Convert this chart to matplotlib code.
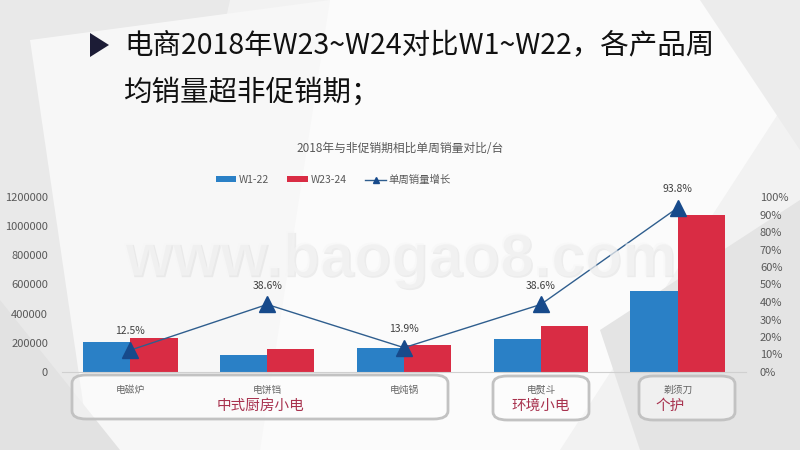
import matplotlib
matplotlib.use("Agg")
import matplotlib.pyplot as plt
from matplotlib.patches import FancyBboxPatch, Polygon
from matplotlib.lines import Line2D
from matplotlib.patches import Patch
import matplotlib.patheffects as pe
import numpy as np

plt.rcParams['font.family'] = ['Noto Sans CJK SC', 'DejaVu Sans']

categories = ['电磁炉', '电饼铛', '电炖锅', '电熨斗', '剃须刀']
w1_22 = [205000, 115000, 162000, 228000, 555000]
w23_24 = [231000, 160000, 185000, 316000, 1075000]
growth = [12.5, 38.6, 13.9, 38.6, 93.8]
growth_labels = ['12.5%', '38.6%', '13.9%', '38.6%', '93.8%']
left_ticks = [0, 200000, 400000, 600000, 800000, 1000000, 1200000]
right_ticks = [0, 10, 20, 30, 40, 50, 60, 70, 80, 90, 100]
groups = ['中式厨房小电', '环境小电', '个护']
series_names = ['W1-22', 'W23-24', '单周销量增长']
chart_title = '2018年与非促销期相比单周销量对比/台'
heading1 = '电商2018年W23~W24对比W1~W22，各产品周'
heading2 = '均销量超非促销期；'

W, H = 800, 450
fig = plt.figure(figsize=(8, 4.5), dpi=100)
fig.patch.set_facecolor('#f2f2f2')

def fx(x):
    return x / W

def fy(y):
    return 1 - y / H

# background geometry
bg = [
    ([(0, 0), (230, 0), (130, 450), (0, 450)], '#e9e9e9'),
    ([(30, 40), (330, 0), (480, 0), (260, 450), (90, 450)], '#f7f7f7'),
    ([(330, 0), (800, 0), (800, 80), (560, 450), (260, 450)], '#fbfbfb'),
    ([(600, 330), (800, 200), (800, 450), (640, 450)], '#e4e4e4'),
    ([(700, 0), (800, 0), (800, 150)], '#ececec'),
    ([(0, 300), (120, 450), (0, 450)], '#e2e2e2'),
]
for pts, c in bg:
    poly = Polygon([(fx(a), fy(b)) for a, b in pts], closed=True,
                   transform=fig.transFigure, facecolor=c, edgecolor='none', zorder=-10)
    fig.patches.append(poly)

# heading triangle
tri = Polygon([(fx(90), fy(33)), (fx(109), fy(45)), (fx(90), fy(57))], closed=True,
              transform=fig.transFigure, facecolor='#1c1c36', edgecolor='none', zorder=2)
fig.patches.append(tri)
fig.text(fx(124), fy(45), heading1, fontsize=20.5, color='#111111', va='center', ha='left',
         fontweight='medium')
fig.text(fx(124), fy(93), heading2, fontsize=20.5, color='#111111', va='center', ha='left',
         fontweight='medium')

# axes
ax = fig.add_axes([fx(62), fy(372), fx(746 - 62), (372 - 197) / H])
ax.set_facecolor('none')
ax.set_zorder(1)
x = np.arange(len(categories))
bw = 0.345
ax.bar(x - bw / 2, w1_22, bw, color='#2a80c6', zorder=2)
ax.bar(x + bw / 2, w23_24, bw, color='#d92c44', zorder=2)
ax.set_xlim(-0.5, len(categories) - 0.5)
ax.set_ylim(0, 1200000)
ax.set_yticks(left_ticks)
ax.set_yticklabels([str(v) for v in left_ticks])
ax.tick_params(axis='y', length=0, labelsize=8, labelcolor='#595959', pad=10)
ax.set_xticks([])
for s in ['top', 'right', 'left']:
    ax.spines[s].set_visible(False)
ax.spines['bottom'].set_color('#d0d0d0')
ax.spines['bottom'].set_linewidth(0.8)

ax2 = ax.twinx()
ax2.set_ylim(0, 100)
ax2.plot(x, growth, color='#2f5e8e', linewidth=1.0, marker='^', markersize=11,
         markerfacecolor='#174a8b', markeredgecolor='#174a8b', zorder=5)
ax2.set_yticks(right_ticks)
ax2.set_yticklabels([f'{v}%' for v in right_ticks])
ax2.tick_params(axis='y', length=0, labelsize=8, labelcolor='#595959', pad=10)
for s in ['top', 'right', 'left', 'bottom']:
    ax2.spines[s].set_visible(False)
for xi, g, lab in zip(x, growth, growth_labels):
    ax2.annotate(lab, (xi, g), xytext=(0, 10), textcoords='offset points',
                 ha='center', va='bottom', fontsize=7.5, color='#404040')

# watermark
fig.text(0.5, fy(260), 'www.baogao8.com', fontsize=44, fontweight='bold',
         family='Liberation Sans', color='#f6f6f6', alpha=0.6, ha='center', va='center',
         zorder=10,
         path_effects=[pe.withSimplePatchShadow(offset=(1.2, -1.2), shadow_rgbFace='#d0d0d0', alpha=0.35)])

# chart title
fig.text(fx(400), fy(149), chart_title, fontsize=8.5, color='#595959', ha='center', va='center')

# legend
handles = [Patch(facecolor='#2a80c6'), Patch(facecolor='#d92c44'),
           Line2D([0], [0], color='#2f5e8e', lw=1, marker='^', markersize=5,
                  markerfacecolor='#174a8b', markeredgecolor='#174a8b')]
leg = fig.legend(handles, series_names, loc='center', bbox_to_anchor=(fx(333), fy(180)),
                 ncol=3, frameon=False, fontsize=7.5, handlelength=2.0, handleheight=0.5,
                 columnspacing=1.8, handletextpad=0.2, labelcolor='#595959')

# group boxes
boxes = [(72, 375, 448, 419), (493, 376, 589, 420), (639, 376, 735, 420)]
for (x0, y0, x1, y1) in boxes:
    bb = FancyBboxPatch((fx(x0), fy(y1)), fx(x1 - x0), (y1 - y0) / H,
                        boxstyle='round,pad=0,rounding_size=0.018',
                        transform=fig.transFigure, facecolor='white', alpha=0.45,
                        edgecolor='none', zorder=3)
    fig.patches.append(bb)
    bb2 = FancyBboxPatch((fx(x0), fy(y1)), fx(x1 - x0), (y1 - y0) / H,
                         boxstyle='round,pad=0,rounding_size=0.018',
                         transform=fig.transFigure, facecolor='none',
                         edgecolor='#c2c2c2', linewidth=2, zorder=4)
    fig.patches.append(bb2)

cat_px = [130, 267, 404, 541, 678]
for cx, name in zip(cat_px, categories):
    fig.text(fx(cx), fy(390), name, fontsize=7, color='#666666', ha='center', va='center', zorder=6)

group_px = [(260, 406), (541, 406), (670, 406)]
for (gx, gy), g in zip(group_px, groups):
    fig.text(fx(gx), fy(gy), g, fontsize=10.5, color='#a8324e', ha='center', va='center', zorder=6)

fig.savefig('out.png', dpi=100, facecolor=fig.get_facecolor())
